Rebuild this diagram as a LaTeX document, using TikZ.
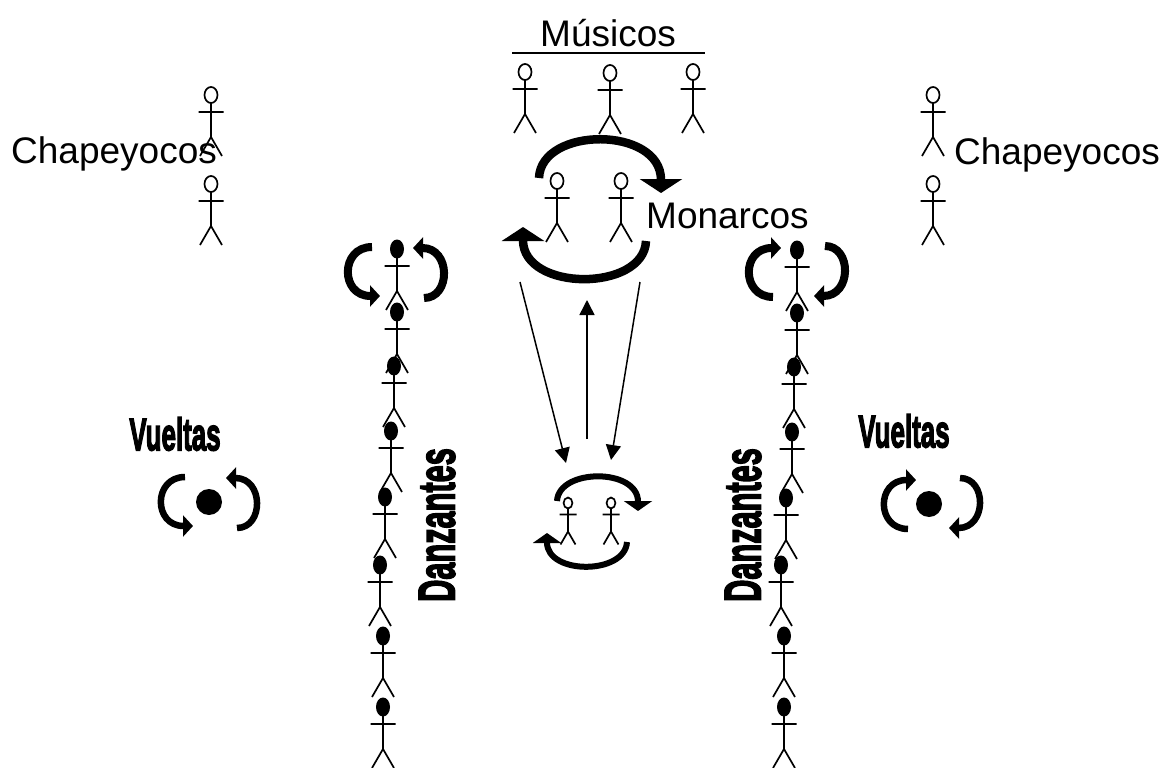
\documentclass[tikz,border=0pt]{standalone}
\usepackage{fontspec}
\setmainfont{Liberation Sans}
\newfontfamily\heavyfont[FakeBold=3.5]{Liberation Sans Bold}
\usetikzlibrary{arrows.meta}

\tikzset{
  man/.style={line width=1.7pt},
  bigarrow/.style={-{Triangle[length=14pt,width=42pt]}},
  midarrow/.style={-{Triangle[length=10pt,width=28pt]}},
  turnarrow/.style={-{Triangle[length=10pt,width=21pt]}},
  thinarrow/.style={line width=1.5pt,-{Triangle[length=15pt,width=15pt]}},
  label/.style={font=\fontsize{37}{37}\selectfont,anchor=base west,inner sep=0pt},
  heavy/.style={font=\heavyfont\fontsize{48}{48}\selectfont,inner sep=0pt},
  hollowman/.pic={
    \draw [man,fill=white] (0,0) ellipse [x radius=6.5,y radius=8];
    \draw [man] (0,8) -- (0,42) (-12.5,17) -- (12.5,17) (-11,61) -- (0,42) -- (11,61);
  },
  filledman/.pic={
    \draw [man] (0,8) -- (0,42) (-12.5,17) -- (12.5,17) (-11,61) -- (0,42) -- (11,61);
    \fill (0,0) ellipse [x radius=7,y radius=9.5];
  },
  turnpair/.pic={
    \draw [turnarrow] (-24,-25) .. controls (-56,-25) and (-56,24) .. (-16,24);
    \draw [turnarrow] (28,26) .. controls (55,26) and (55,-24) .. (17,-24);
  }
}

\begin{document}
\begin{tikzpicture}[x=1pt,y=-1pt]
\useasboundingbox (0,0) rectangle (1163,768);

\node [label] (musicos) at (540,47) {Músicos};
\node [label] (monarcos) at (646,228) {Monarcos};
\node [label] (chapeL) at (11,163) {Chapeyocos};
\node [label] (chapeR) at (954,164) {Chapeyocos};
\draw [line width=1.5pt] (512,53) -- (705,53);

\pic at (525,72) {hollowman};
\pic at (610,73) {hollowman};
\pic at (693,72) {hollowman};
\pic at (557,181) {hollowman};
\pic at (621,181) {hollowman};
\pic at (211,95) {hollowman};
\pic at (211,184) {hollowman};
\pic at (933,95) {hollowman};
\pic at (933,184) {hollowman};
\pic [scale=.68] at (568,503) {hollowman};
\pic [scale=.68] at (611,503) {hollowman};

% dancers, left row
\pic at (397,249) {filledman};
\pic at (397,312) {filledman};
\pic at (394,366) {filledman};
\pic at (391,431) {filledman};
\pic at (385,497) {filledman};
\pic at (380,565) {filledman};
\pic at (383,636) {filledman};
\pic at (383,707) {filledman};
% dancers, right row
\pic at (797,250) {filledman};
\pic at (797,313) {filledman};
\pic at (794,367) {filledman};
\pic at (792,432) {filledman};
\pic at (786,498) {filledman};
\pic at (781,565) {filledman};
\pic at (784,636) {filledman};
\pic at (784,707) {filledman};

\draw [line width=8.5pt,bigarrow] (539,178) .. controls (541,126) and (661,126) .. (661,193);
\draw [line width=8.5pt,bigarrow] (646,241) .. controls (644,292) and (523,292) .. (523,227);
\draw [line width=6pt,midarrow] (557,501) .. controls (559,468) and (638,468) .. (638,511);
\draw [line width=6pt,midarrow] (627,542) .. controls (625,575) and (547,575) .. (547,533);

\coordinate (monL) at (520,282);
\coordinate (monM) at (587,300);
\coordinate (monR) at (640,282);
\coordinate (smallL) at (566,463);
\coordinate (smallM) at (587,439);
\coordinate (smallR) at (611,460);
\draw [thinarrow] (monL) -- (smallL);
\draw [thinarrow] (monR) -- (smallR);
\draw [thinarrow] (smallM) -- (monM);

\pic [line width=8pt] at (396,272) {turnpair};
\pic [line width=8pt,yscale=-1] at (797,272) {turnpair};
\pic [line width=6.5pt] at (209,502) {turnpair};
\pic [line width=6.5pt,yscale=-1] at (932,504) {turnpair};
\fill (209,502) circle [radius=13];
\fill (929,504) circle [radius=13];

\node [heavy] (vueltasL) at (175,434) {\scalebox{.54}[.95]{Vueltas}};
\node [heavy] (vueltasR) at (904,431) {\scalebox{.54}[.95]{Vueltas}};
\node [heavy,rotate=90] (danzL) at (437,525) {\scalebox{.64}[1.08]{Danzantes}};
\node [heavy,rotate=90] (danzR) at (743,525) {\scalebox{.64}[1.08]{Danzantes}};
\end{tikzpicture}
\end{document}
